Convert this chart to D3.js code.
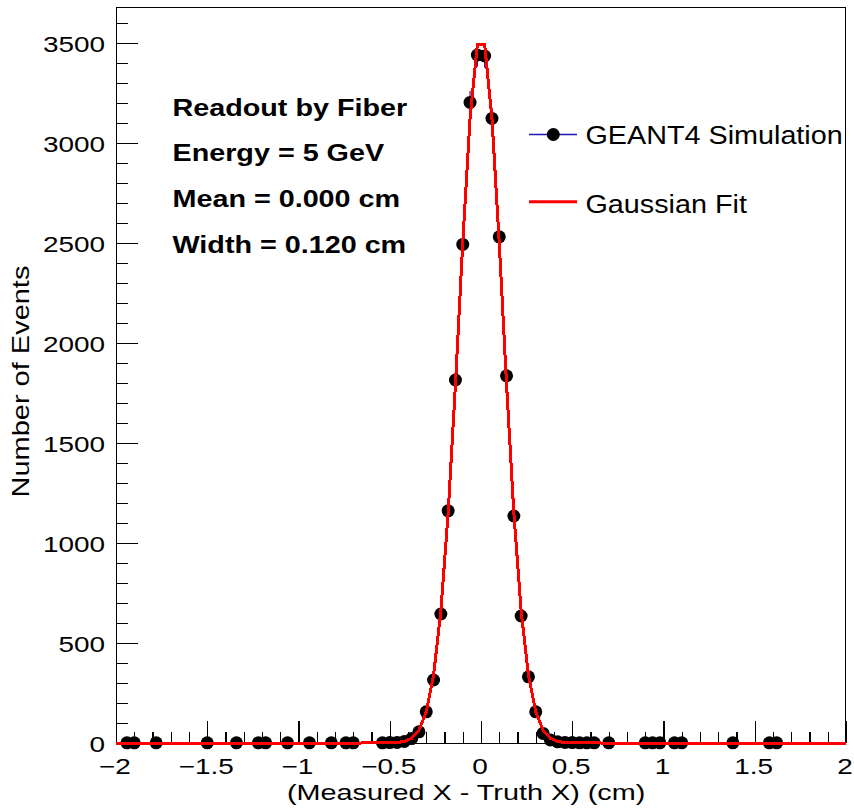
<!DOCTYPE html>
<html>
<head>
<meta charset="utf-8">
<script src="https://cdn.jsdelivr.net/npm/d3@7"></script>
<style>
  html, body { margin: 0; padding: 0; background: #fff; }
  svg { display: block; font-family: "Liberation Sans", Arial, Helvetica, sans-serif; }
</style>
</head>
<body>
<svg id="chart" width="854" height="810"></svg>
<script>
// Histogram of residuals (bin centres in cm, events per 0.04 cm bin)
const binCenters = [-1.94, -1.90, -1.78, -1.50, -1.34, -1.22, -1.18, -1.06, -0.94, -0.82,
                    -0.74, -0.70, -0.54, -0.50, -0.46, -0.42, -0.38, -0.34, -0.30, -0.26,
                    -0.22, -0.18, -0.14, -0.10, -0.06, -0.02, 0.02, 0.06, 0.10, 0.14,
                    0.18, 0.22, 0.26, 0.30, 0.34, 0.38, 0.42, 0.46, 0.50, 0.54,
                    0.58, 0.62, 0.70, 0.90, 0.94, 0.98, 1.06, 1.10, 1.38, 1.58, 1.62];
const counts = [1, 1, 1, 1, 1, 1, 1, 1, 1, 1,
                1, 1, 1, 2, 3, 8, 22, 56, 156, 315,
                645, 1161, 1815, 2493, 3203, 3440, 3435, 3123, 2531, 1836,
                1135, 635, 331, 156, 48, 15, 6, 3, 2, 1,
                1, 1, 1, 1, 1, 1, 1, 1, 1, 1, 1];

// Gaussian fit parameters
const fitAmplitude = 3540;
const fitMean = 0.000;
const fitSigma = 0.120;

// Axes
const xDomain = [-2, 2];
const yDomain = [0, 3680];
const xTicks = [-2, -1.5, -1, -0.5, 0, 0.5, 1, 1.5, 2];
const xTickLabels = ["\u22122", "\u22121.5", "\u22121", "\u22120.5", "0", "0.5", "1", "1.5", "2"];
const yTicks = [0, 500, 1000, 1500, 2000, 2500, 3000, 3500];
const yTickLabels = ["0", "500", "1000", "1500", "2000", "2500", "3000", "3500"];
const xTitle = "(Measured X - Truth X) (cm)";
const yTitle = "Number of Events";

// Annotations and legend
const infoLines = ["Readout by Fiber", "Energy = 5 GeV",
                   "Mean = " + fitMean.toFixed(3) + " cm",
                   "Width = " + fitSigma.toFixed(3) + " cm"];
const legendLabels = ["GEANT4 Simulation", "Gaussian Fit"];

const frame = { left: 116, right: 846, top: 7, bottom: 743 };
const svg = d3.select("#chart");

const x = d3.scaleLinear().domain(xDomain).range([frame.left, frame.right]);
const y = d3.scaleLinear().domain(yDomain).range([frame.bottom, frame.top]);

const BLUE = "#1818b4";

// wide Helvetica-style text: drawn at a given size, then stretched horizontally
function label(parent, px, py, str, o) {
  return parent.append("text")
    .attr("transform", `translate(${px},${py}) rotate(${o.rot || 0}) scale(${o.sx},1)`)
    .attr("text-anchor", o.anchor || "start")
    .style("font-size", o.size + "px")
    .style("font-weight", o.weight || "normal")
    .attr("fill", "#000")
    .text(str);
}

// ---- frame ----
svg.append("rect")
  .attr("x", frame.left + 0.5).attr("y", frame.top + 0.5)
  .attr("width", frame.right - frame.left - 1).attr("height", frame.bottom - frame.top)
  .attr("fill", "none").attr("stroke", "#000").attr("stroke-width", 1.2)
  .attr("shape-rendering", "crispEdges");

// ---- x axis (ticks point up into the frame) ----
const xMinor = d3.range(-20, 21).map(i => i / 10);
svg.append("g").attr("transform", `translate(0,${frame.bottom})`)
  .call(d3.axisBottom(x).tickValues(xMinor).tickSize(-11).tickFormat(""))
  .call(g => g.select(".domain").remove())
  .call(g => g.selectAll("line").attr("shape-rendering", "crispEdges").attr("stroke-width", 1.2));

const gx = svg.append("g").attr("transform", `translate(0,${frame.bottom})`)
  .call(d3.axisBottom(x).tickValues(xTicks).tickSize(-22).tickFormat((d, i) => xTickLabels[i]))
  .call(g => g.select(".domain").remove())
  .call(g => g.selectAll("line").attr("shape-rendering", "crispEdges").attr("stroke-width", 1.2));
gx.selectAll("text")
  .attr("y", 31).attr("dy", null).attr("x", -1.2)
  .attr("fill", "#000")
  .style("font-size", "22px")
  .style("font-family", "'Liberation Sans', Arial, sans-serif")
  .attr("transform", "scale(1.27,1)");

// ---- y axis (ticks point right into the frame) ----
const yMinor = d3.range(0, 37).map(i => i * 100);
svg.append("g").attr("transform", `translate(${frame.left},0)`)
  .call(d3.axisLeft(y).tickValues(yMinor).tickSize(-11.5).tickFormat(""))
  .call(g => g.select(".domain").remove())
  .call(g => g.selectAll("line").attr("shape-rendering", "crispEdges").attr("stroke-width", 1.2));

const gy = svg.append("g").attr("transform", `translate(${frame.left},0)`)
  .call(d3.axisLeft(y).tickValues(yTicks).tickSize(-22).tickFormat((d, i) => yTickLabels[i]))
  .call(g => g.select(".domain").remove())
  .call(g => g.selectAll("line").attr("shape-rendering", "crispEdges").attr("stroke-width", 1.2));
gy.selectAll("text")
  .attr("x", -11 / 1.27).attr("dy", 8)
  .attr("fill", "#000")
  .style("font-size", "22px")
  .style("font-family", "'Liberation Sans', Arial, sans-serif")
  .attr("transform", "scale(1.27,1)");

// ---- axis titles ----
label(svg, 287, 800, xTitle, { size: 22.5, sx: 1.28 });
label(svg, 28.5, 497.5, yTitle, { size: 23, sx: 1.26, rot: -90 });

// ---- histogram: Poisson error bars and markers ----
const points = binCenters.map((c, i) => ({ x: c, v: counts[i], e: Math.sqrt(counts[i]) }));
svg.append("g").selectAll("line").data(points).join("line")
  .attr("x1", d => x(d.x)).attr("x2", d => x(d.x))
  .attr("y1", d => y(d.v - d.e)).attr("y2", d => y(d.v + d.e))
  .attr("stroke", BLUE).attr("stroke-width", 1.2);
svg.append("g").selectAll("circle").data(points).join("circle")
  .attr("cx", d => x(d.x)).attr("cy", d => y(d.v))
  .attr("r", 6.5).attr("fill", "#000");

// ---- Gaussian fit curve ----
const gauss = t => fitAmplitude * Math.exp(-0.5 * Math.pow((t - fitMean) / fitSigma, 2));
const fitX = [xDomain[0], ...d3.range(0, 100).map(i => -1.98 + i * 0.04), xDomain[1]];
svg.append("path")
  .datum(fitX)
  .attr("d", d3.line().x(t => x(t)).y(t => y(gauss(t))))
  .attr("fill", "none").attr("stroke", "#ff0000").attr("stroke-width", 3)
  .attr("stroke-linejoin", "miter")
  .attr("shape-rendering", "crispEdges");

// ---- annotation block ----
const infoBaselines = [115.5, 161, 207, 253];
infoLines.forEach((s, i) => label(svg, 172.5, infoBaselines[i], s, { size: 23, sx: 1.25, weight: "bold" }));

// ---- legend ----
const lg = svg.append("g");
lg.append("line").attr("x1", 529).attr("x2", 577).attr("y1", 134.5).attr("y2", 134.5)
  .attr("stroke", BLUE).attr("stroke-width", 1.3);
lg.append("circle").attr("cx", 553.3).attr("cy", 134.5).attr("r", 6.5).attr("fill", "#000");
lg.append("line").attr("x1", 529).attr("x2", 577).attr("y1", 201.7).attr("y2", 201.7)
  .attr("stroke", "#ff0000").attr("stroke-width", 3);
label(lg, 585.5, 144, legendLabels[0], { size: 25, sx: 1.15 });
label(lg, 585.5, 213, legendLabels[1], { size: 25, sx: 1.15 });
</script>
</body>
</html>
